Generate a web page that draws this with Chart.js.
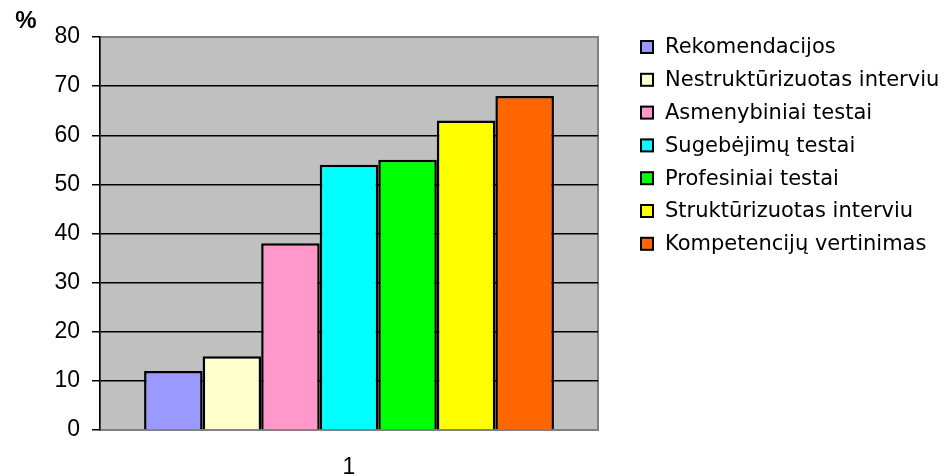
<!DOCTYPE html>
<html>
<head>
<meta charset="utf-8">
<script src="https://cdn.jsdelivr.net/npm/chart.js@4.4.1/dist/chart.umd.min.js"></script>
<style>
  html, body { margin: 0; padding: 0; background: #fff; }
  #wrap { width: 946px; height: 476px; position: relative; }
</style>
</head>
<body>
<div id="wrap"><canvas id="chart"></canvas></div>
<script>
// duomenys
const kategorijos = ['1'];
const serijos = [
  'Rekomendacijos',
  'Nestruktūrizuotas interviu',
  'Asmenybiniai testai',
  'Sugebėjimų testai',
  'Profesiniai testai',
  'Struktūrizuotas interviu',
  'Kompetencijų vertinimas'
];
const reiksmes = [12, 15, 38, 54, 55, 63, 68];
const spalvos = ['#9999FF', '#FFFFCC', '#FF99CC', '#00FFFF', '#00FF00', '#FFFF00', '#FF6600'];
const yMin = 0, yMax = 80, yZingsnis = 10;
const asiesPavadinimas = '%';

const tekstoSpalva = '#000';
const sriftasAsys = '"Liberation Sans", Arial, sans-serif';
const sriftasLegenda = '"DejaVu Sans", Verdana, sans-serif';

// pilkas fonas ir rėmelis kaip Excel'yje
const fonoPluginas = {
  id: 'fonas',
  beforeDraw(chart) {
    const { ctx, chartArea: a } = chart;
    ctx.save();
    ctx.fillStyle = '#C0C0C0';
    ctx.fillRect(a.left, a.top, a.right - a.left, a.bottom - a.top);
    ctx.strokeStyle = '#808080';
    ctx.lineWidth = 2;
    ctx.strokeRect(a.left, a.top, a.right - a.left, a.bottom - a.top);
    ctx.restore();
  },
  afterDraw(chart) {
    const { ctx } = chart;
    ctx.save();
    // % virš ašies
    ctx.fillStyle = tekstoSpalva;
    ctx.font = 'bold 24px ' + sriftasAsys;
    ctx.textAlign = 'center';
    ctx.textBaseline = 'middle';
    ctx.fillText(asiesPavadinimas, 26, 21);

    // legenda
    ctx.font = '21px ' + sriftasLegenda;
    ctx.textAlign = 'left';
    chart.data.datasets.forEach((ds, i) => {
      const y = 47 + i * 32.8;
      ctx.fillStyle = ds.backgroundColor;
      ctx.fillRect(641, y - 6, 12, 12);
      ctx.strokeStyle = '#000';
      ctx.lineWidth = 2;
      ctx.strokeRect(641, y - 6, 12, 12);
      ctx.fillStyle = tekstoSpalva;
      ctx.fillText(ds.label, 665, y + 1);
    });
    ctx.restore();
  }
};

new Chart('chart', {
  type: 'bar',
  data: {
    labels: kategorijos,
    datasets: serijos.map((s, i) => ({
      label: s,
      data: [reiksmes[i]],
      backgroundColor: spalvos[i],
      borderColor: '#000',
      borderWidth: 2.5,
      barPercentage: 1,
      categoryPercentage: 0.823
    }))
  },
  options: {
    responsive: true,
    maintainAspectRatio: false,
    animation: false,
    layout: { padding: { top: 37, right: 348, left: 0, bottom: 0 } },
    plugins: { legend: { display: false }, tooltip: { enabled: false } },
    scales: {
      x: {
        grid: { display: false, drawTicks: false },
        border: { display: false },
        ticks: { color: tekstoSpalva, font: { family: sriftasAsys, size: 23 }, padding: 24 },
        afterFit(s) { s.height = 46; }
      },
      y: {
        min: yMin, max: yMax,
        ticks: { stepSize: yZingsnis, color: tekstoSpalva, font: { family: sriftasAsys, size: 23 }, padding: 12 },
        grid: {
          color: c => (c.tick.value === yMin || c.tick.value === yMax) ? 'rgba(0,0,0,0)' : '#000',
          tickColor: '#000',
          tickLength: 8,
          lineWidth: 1.5
        },
        border: { color: '#000', width: 1.5 },
        afterFit(s) { s.width = 100; }
      }
    }
  },
  plugins: [fonoPluginas]
});
</script>
</body>
</html>
